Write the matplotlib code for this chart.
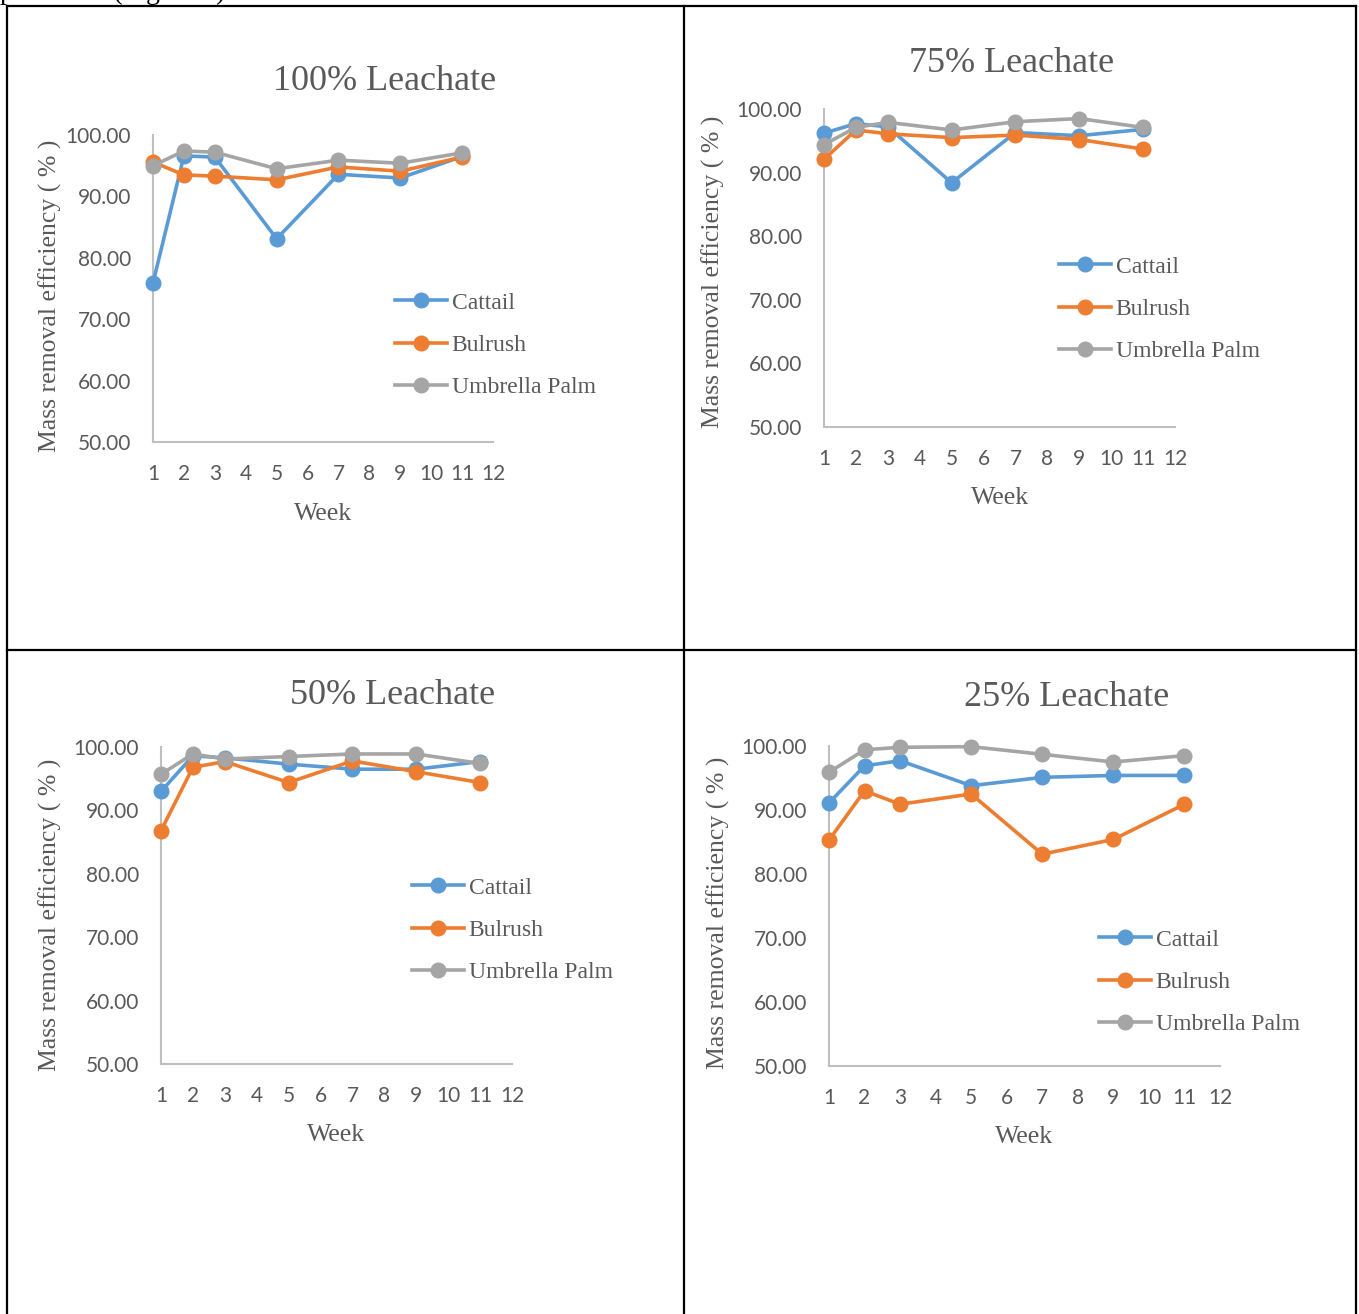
import matplotlib
matplotlib.use("Agg")
import matplotlib.pyplot as plt
from matplotlib.lines import Line2D

# ------------------------------------------------------------
# Data
# ------------------------------------------------------------
weeks = [1, 2, 3, 5, 7, 9, 11]
week_ticks = list(range(1, 13))
y_ticks = [50, 60, 70, 80, 90, 100]
species = ["Cattail", "Bulrush", "Umbrella Palm"]

titles = ["100% Leachate", "75% Leachate", "50% Leachate", "25% Leachate"]

cattail_100 = [75.9, 96.6, 96.4, 83.1, 93.6, 93.0, 96.5]
bulrush_100 = [95.6, 93.5, 93.3, 92.7, 94.8, 94.1, 96.4]
umbrella_100 = [95.0, 97.4, 97.2, 94.5, 95.9, 95.4, 97.1]

cattail_75 = [96.2, 97.7, 97.2, 88.4, 96.3, 95.8, 96.8]
bulrush_75 = [92.1, 96.7, 96.1, 95.5, 95.9, 95.2, 93.7]
umbrella_75 = [94.4, 97.1, 97.9, 96.7, 98.0, 98.5, 97.1]

cattail_50 = [93.0, 98.6, 98.3, 97.3, 96.5, 96.5, 97.7]
bulrush_50 = [86.8, 96.8, 97.7, 94.4, 97.8, 96.1, 94.4]
umbrella_50 = [95.7, 98.9, 98.1, 98.5, 98.9, 98.9, 97.4]

cattail_25 = [91.1, 96.9, 97.7, 93.8, 95.1, 95.4, 95.4]
bulrush_25 = [85.3, 93.0, 90.9, 92.5, 83.1, 85.4, 90.9]
umbrella_25 = [95.9, 99.4, 99.8, 99.9, 98.7, 97.5, 98.5]

panels_data = [
    (cattail_100, bulrush_100, umbrella_100),
    (cattail_75, bulrush_75, umbrella_75),
    (cattail_50, bulrush_50, umbrella_50),
    (cattail_25, bulrush_25, umbrella_25),
]

colors = ["#5B9BD5", "#ED7D31", "#A5A5A5"]
TXT = "#595959"
SERIF = "Liberation Serif"
SANS = "Lato"

# ------------------------------------------------------------
# Layout (pixels in a 1359 x 1314 canvas)
# ------------------------------------------------------------
W, H = 1359, 1314
# axes box: left, right, top(=100), bottom(=50)
boxes = [(153, 493, 135, 442), (824, 1175, 109, 427),
         (161, 512, 747, 1064), (829, 1220, 746, 1066)]
title_pos = [(385, 81), (1012, 63), (393, 695), (1067, 697)]
ylab_pos = [(50, 296), (713, 272), (50, 915), (718, 913)]
xlab_pos = [(323, 514), (1000, 498), (336, 1135), (1024, 1137)]
leg_pos = [(395, 292), (1059, 256), (412, 877), (1099, 929)]

fig = plt.figure(figsize=(W / 100, H / 100), dpi=100)


def fx(x):
    return x / W


def fy(y):
    return 1 - y / H


for k in range(4):
    l, r, t, b = boxes[k]
    ax = fig.add_axes([fx(l), fy(b), (r - l) / W, (b - t) / H])
    for name, vals, c in zip(species, panels_data[k], colors):
        ax.plot(weeks, vals, color=c, lw=2.6, marker="o", ms=10.5,
                label=name, clip_on=False, zorder=3)
    ax.set_xlim(1, 12)
    ax.set_ylim(50, 100)
    ax.set_xticks(week_ticks)
    ax.set_yticks(y_ticks)
    ax.set_yticklabels([f"{v:.2f}" for v in y_ticks])
    ax.tick_params(length=0, labelsize=15, labelcolor=TXT, pad=16)
    for lab in ax.get_xticklabels() + ax.get_yticklabels():
        lab.set_fontfamily(SANS)
    for s in ("top", "right"):
        ax.spines[s].set_visible(False)
    for s in ("left", "bottom"):
        ax.spines[s].set_color("#BFBFBF")
        ax.spines[s].set_linewidth(1.5)
    ax.patch.set_alpha(0)

    tx, ty = title_pos[k]
    fig.text(fx(tx), fy(ty), titles[k], ha="center", va="center",
             fontsize=26, color=TXT, family=SERIF)
    yx, yy = ylab_pos[k]
    fig.text(fx(yx), fy(yy), "Mass removal efficiency ( % )", ha="center",
             va="center", rotation=90, fontsize=18.5, color=TXT, family=SERIF)
    xx, xy = xlab_pos[k]
    fig.text(fx(xx), fy(xy), "Week", ha="center", va="center",
             fontsize=18.5, color=TXT, family=SERIF)
    lx, ly = leg_pos[k]
    leg = ax.legend(loc="upper left", bbox_to_anchor=(fx(lx), fy(ly)),
                    bbox_transform=fig.transFigure, frameon=False,
                    prop={"family": SERIF, "size": 17}, handlelength=2.2,
                    handletextpad=0.2, labelspacing=0.88, borderpad=0,
                    borderaxespad=0)
    for tx_ in leg.get_texts():
        tx_.set_color(TXT)

# table borders
lw = 1.6
border_lines = [((7, 7), (6, H)), ((684, 684), (6, H)), ((1356, 1356), (6, H)),
                ((7, 1356), (6, 6)), ((7, 1356), (650, 650))]
for xs, ys in border_lines:
    fig.add_artist(Line2D([fx(v) for v in xs], [fy(v) for v in ys],
                          color="black", lw=lw))

# clipped text of the document above the table
fig.text(0, fy(-1), "presented (Figure 4).", ha="left", va="baseline",
         fontsize=20, color="black", family=SERIF)

fig.savefig("out.png", dpi=100)
